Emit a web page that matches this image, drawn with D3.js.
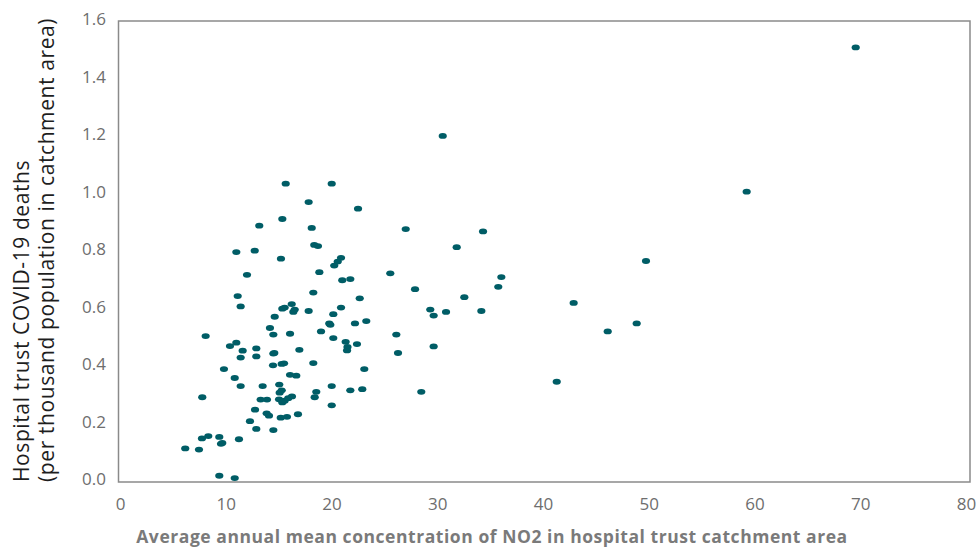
<!DOCTYPE html>
<html>
<head>
<meta charset="utf-8">
<script src="https://cdn.jsdelivr.net/npm/d3@7"></script>
<style>
  html, body { margin: 0; padding: 0; background: #fff; }
  svg { display: block; }
</style>
</head>
<body>
<svg id="chart" width="980" height="550"></svg>
<script>
// NO2 concentration (x) per hospital trust
const no2 = [15.67,20.02,17.84,22.51,13.17,15.35,18.13,18.37,18.72,11.00,12.74,15.22,20.90,20.59,20.26,18.85,25.56,12.01,21.02,21.78,18.28,11.13,11.41,22.67,15.35,15.57,16.24,16.52,16.39,17.84,20.90,20.17,14.63,23.29,
  14.18,14.50,16.08,8.10,19.01,19.79,19.89,22.22,20.17,21.34,22.41,21.47,21.51,26.13,26.29,10.40,11.00,11.60,12.89,11.41,12.89,14.50,14.59,16.96,9.83,14.47,15.29,15.51,18.28,23.10,10.85,16.08,16.67,11.41,13.49,15.06,20.02,18.56,15.29,15.10,21.78,22.91,7.78,18.41,13.30,13.90,15.04,15.35,15.57,15.91,16.26,20.02,12.77,13.87,14.09,16.83,12.29,15.20,15.79,12.89,14.50,7.75,8.35,9.39,9.55,9.67,11.25,6.17,7.47,9.39,10.85,
  30.52,27.02,34.33,31.84,36.06,27.90,35.77,49.74,32.56,29.34,29.66,30.83,34.17,42.90,46.12,48.86,29.66,28.49,41.30,69.57,59.26];
// COVID-19 deaths per thousand population (y)
const deaths = [1.036,1.036,0.972,0.949,0.890,0.913,0.882,0.823,0.819,0.798,0.803,0.775,0.778,0.765,0.751,0.728,0.724,0.719,0.700,0.704,0.657,0.645,0.609,0.637,0.601,0.605,0.617,0.598,0.590,0.593,0.605,0.582,0.573,0.558,
  0.534,0.511,0.514,0.506,0.522,0.550,0.545,0.550,0.499,0.486,0.478,0.456,0.468,0.511,0.447,0.471,0.483,0.455,0.463,0.431,0.435,0.445,0.447,0.458,0.391,0.404,0.409,0.411,0.412,0.391,0.360,0.371,0.368,0.332,0.332,0.337,0.332,0.312,0.317,0.309,0.317,0.321,0.293,0.293,0.285,0.285,0.286,0.275,0.281,0.290,0.296,0.265,0.250,0.237,0.229,0.234,0.210,0.222,0.225,0.183,0.179,0.150,0.158,0.155,0.131,0.134,0.147,0.115,0.111,0.020,0.012,
  1.202,0.878,0.870,0.815,0.711,0.669,0.677,0.767,0.641,0.598,0.577,0.590,0.593,0.621,0.522,0.550,0.470,0.312,0.347,1.510,1.008];
const xTicks = [0,10,20,30,40,50,60,70,80];
const yTicks = [0,0.2,0.4,0.6,0.8,1.0,1.2,1.4,1.6];
const xTitle = "Average annual mean concentration of NO2 in hospital trust catchment area";
const yTitle = ["Hospital trust COVID-19 deaths", "(per thousand population in catchment area)"];

const points = no2.map((x, i) => ({x, y: deaths[i]}));

const svg = d3.select("#chart");
const x = d3.scaleLinear().domain([0, 80]).range([120, 966]);
const y = d3.scaleLinear().domain([0, 1.6]).range([481.5, 21.5]);

const font = "'Open Sans', 'Noto Sans', sans-serif";

// plot frame
svg.append("rect")
  .attr("x", 118.5).attr("y", 21)
  .attr("width", 970 - 118.5).attr("height", 482 - 21)
  .attr("fill", "none").attr("stroke", "#8a8a8a").attr("stroke-width", 1.5);

// x axis
const gx = svg.append("g").attr("transform", "translate(0,482)")
  .call(d3.axisBottom(x).tickValues(xTicks).tickSize(0).tickPadding(16).tickFormat(d3.format("d")));
gx.select(".domain").remove();
gx.selectAll("text").attr("font-family", font).attr("font-size", 17).attr("fill", "#6e6e6e");

// y axis (labels left-aligned)
const gy = svg.append("g").attr("transform", "translate(118,-2)")
  .call(d3.axisLeft(y).tickValues(yTicks).tickSize(0).tickPadding(7).tickFormat(d3.format(".1f")));
gy.select(".domain").remove();
gy.selectAll("text").attr("font-family", font).attr("font-size", 17).attr("fill", "#6e6e6e")
  .attr("text-anchor", "start").attr("x", 82 - 118);

// points
svg.append("g").selectAll("ellipse")
  .data(points).join("ellipse")
  .attr("cx", d => x(d.x)).attr("cy", d => y(d.y))
  .attr("rx", 4.1).attr("ry", 2.9)
  .attr("fill", "#005d66");

// x title
svg.append("text")
  .attr("x", 492).attr("y", 543)
  .attr("text-anchor", "middle")
  .attr("font-family", font).attr("font-size", 17.5).attr("font-weight", 700)
  .attr("letter-spacing", 0.55)
  .attr("fill", "#7a7a7a")
  .text(xTitle);

// y title (left-aligned along the rotated baseline)
const yt = svg.append("text")
  .attr("transform", "translate(29,482) rotate(-90)")
  .attr("text-anchor", "start")
  .attr("font-family", font).attr("font-size", 21).attr("fill", "#1e1e1e")
  .attr("letter-spacing", 0.6);
yt.append("tspan").attr("x", 0).attr("dy", 0).text(yTitle[0]);
yt.append("tspan").attr("x", 0).attr("dy", 25).text(yTitle[1]);
</script>
</body>
</html>
